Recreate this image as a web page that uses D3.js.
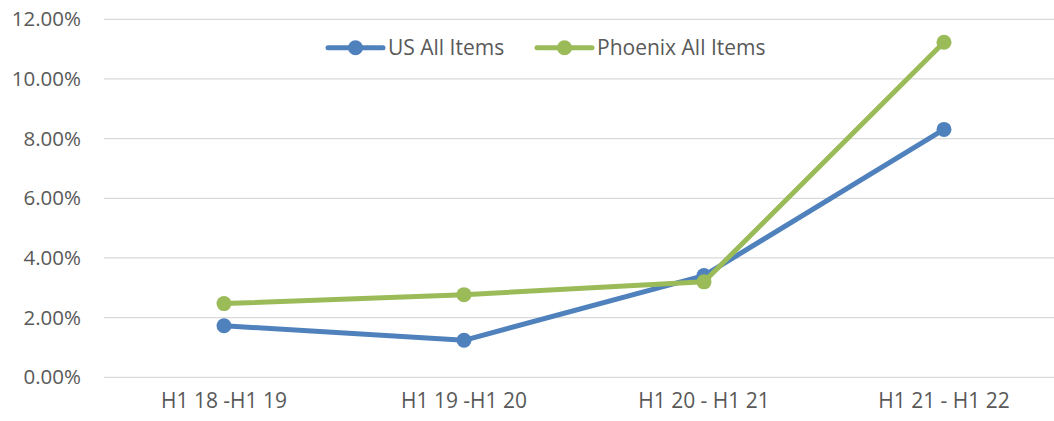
<!DOCTYPE html>
<html>
<head>
<meta charset="utf-8">
<script src="https://cdn.jsdelivr.net/npm/d3@7"></script>
<style>
  body { margin: 0; background: #fff; }
  text { font-family: "Open Sans", sans-serif; fill: #595959; }
</style>
</head>
<body>
<svg width="1054" height="421"></svg>
<script>
// chart values
var categories = ["H1 18 -H1 19", "H1 19 -H1 20", "H1 20 - H1 21", "H1 21 - H1 22"];
var usAllItems = [0.0173, 0.0124, 0.0341, 0.0831];
var phoenixAllItems = [0.0247, 0.0277, 0.0320, 0.1123];
var seriesNames = ["US All Items", "Phoenix All Items"];
var yTicks = [0, 0.02, 0.04, 0.06, 0.08, 0.10, 0.12];

var svg = d3.select("svg"),
  plotLeft = 104, plotRight = 1064, plotTop = 19.3, plotBottom = 377.3;

var x = d3.scaleBand()
  .domain(categories)
  .range([plotLeft, plotRight]);

var y = d3.scaleLinear()
  .domain([0, 0.12])
  .range([plotBottom, plotTop]);

// gridlines
svg.append("g")
  .selectAll("line")
  .data(yTicks)
  .enter().append("line")
  .attr("x1", plotLeft)
  .attr("x2", plotRight)
  .attr("y1", function(d) { return y(d); })
  .attr("y2", function(d) { return y(d); })
  .attr("stroke", "#d9d9d9")
  .attr("stroke-width", 1.3);

// y axis labels
var yAxis = d3.axisLeft(y).tickValues(yTicks).tickSize(0).tickPadding(0)
  .tickFormat(function(d) { return (d * 100).toFixed(2) + "%"; });
svg.append("g")
  .attr("transform", "translate(81,0)")
  .call(yAxis)
  .call(function(g) { g.select(".domain").remove(); })
  .selectAll("text")
  .attr("font-size", 20.5)
  .attr("font-family", "Open Sans, sans-serif")
  .attr("fill", "#595959");

// x axis labels
var xAxis = d3.axisBottom(x).tickSize(0).tickPadding(0);
svg.append("g")
  .attr("transform", "translate(0,393)")
  .call(xAxis)
  .call(function(g) { g.select(".domain").remove(); })
  .selectAll("text")
  .attr("font-size", 21)
  .attr("font-family", "Open Sans, sans-serif")
  .attr("fill", "#595959");

var series = [
  { name: seriesNames[0], values: usAllItems, color: "#4F81BD" },
  { name: seriesNames[1], values: phoenixAllItems, color: "#9BBB59" }
];

var line = d3.line()
  .x(function(d, i) { return x(categories[i]) + x.bandwidth() / 2; })
  .y(function(d) { return y(d); });

series.forEach(function(s) {
  var g = svg.append("g");
  g.append("path")
    .datum(s.values)
    .attr("d", line)
    .attr("fill", "none")
    .attr("stroke", s.color)
    .attr("stroke-width", 5)
    .attr("stroke-linejoin", "round");
  g.selectAll("circle")
    .data(s.values)
    .enter().append("circle")
    .attr("cx", function(d, i) { return x(categories[i]) + x.bandwidth() / 2; })
    .attr("cy", function(d) { return y(d); })
    .attr("r", 7.5)
    .attr("fill", s.color);
});

// legend
var legendX = [328, 537];
series.forEach(function(s, i) {
  var g = svg.append("g").attr("transform", "translate(" + legendX[i] + ",47.7)");
  g.append("line")
    .attr("x1", 0).attr("x2", 55)
    .attr("stroke", s.color)
    .attr("stroke-width", 5)
    .attr("stroke-linecap", "round");
  g.append("circle")
    .attr("cx", 27.5)
    .attr("r", 7.5)
    .attr("fill", s.color);
  g.append("text")
    .attr("x", 60)
    .attr("y", 7.5)
    .attr("font-size", 21)
    .text(s.name);
});
</script>
</body>
</html>
